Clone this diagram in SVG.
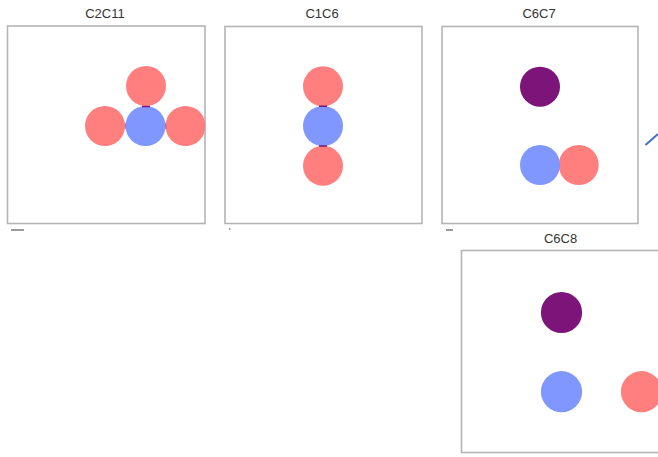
<svg xmlns="http://www.w3.org/2000/svg" width="658" height="457" viewBox="0 0 658 457">
  <style>
    .frame { fill: #ffffff; stroke: #b4b4b4; stroke-width: 1.6; }
    .title { font-family: "Liberation Sans", Arial, sans-serif; font-size: 13px; fill: #333333; text-anchor: middle; }
    .red { fill: #ff7f7f; }
    .blue { fill: #7f97ff; }
    .purple { fill: #7d1479; }
    .joint { stroke: #7d1479; fill: none; }
    .tick { stroke: #7a7a7a; stroke-width: 1.5; fill: none; }
    .link { stroke: #3a6cc6; stroke-width: 1.8; fill: none; }
  </style>

  <rect width="658" height="457" fill="#ffffff"/>

  <!-- panel: C2C11 -->
  <g id="C2C11">
    <text class="title" x="105" y="18">C2C11</text>
    <rect class="frame" x="7.5" y="26" width="197.5" height="197.5"/>
    <circle class="red" cx="146" cy="86" r="20"/>
    <circle class="red" cx="105" cy="126" r="20"/>
    <circle class="red" cx="185.5" cy="126" r="20"/>
    <circle class="blue" cx="145.5" cy="126" r="20"/>
    <path class="joint" d="M142 106.5 H150" stroke-width="1.5"/>
    <path class="joint" d="M125.3 123 V129 M165.7 123 V129" stroke-width="0.8" opacity="0.7"/>
    <path class="tick" d="M11 230 H24"/>
  </g>

  <!-- panel: C1C6 -->
  <g id="C1C6">
    <text class="title" x="322" y="18">C1C6</text>
    <rect class="frame" x="225" y="26.5" width="197" height="197"/>
    <circle class="red" cx="323" cy="86.3" r="20"/>
    <circle class="blue" cx="323" cy="126" r="20"/>
    <circle class="red" cx="323" cy="165.8" r="20"/>
    <path class="joint" d="M319 106.2 H327 M319 145.9 H327" stroke-width="1.5"/>
    <path class="tick" d="M229 229 H230.5"/>
  </g>

  <!-- panel: C6C7 -->
  <g id="C6C7">
    <text class="title" x="539" y="18">C6C7</text>
    <rect class="frame" x="442" y="26.5" width="196" height="197"/>
    <circle class="purple" cx="540" cy="86.7" r="20"/>
    <circle class="red" cx="578.7" cy="165" r="20"/>
    <circle class="blue" cx="540" cy="165" r="20"/>
    <path class="tick" d="M446 230 H453"/>
  </g>

  <!-- panel: C6C8 -->
  <g id="C6C8">
    <text class="title" x="560.5" y="243">C6C8</text>
    <rect class="frame" x="461.5" y="250.5" width="210" height="202"/>
    <circle class="purple" cx="561.5" cy="312.5" r="20.6"/>
    <circle class="blue" cx="561.5" cy="391.7" r="20.6"/>
    <circle class="red" cx="641.5" cy="391.7" r="20.6"/>
  </g>

  <!-- connectors -->
  <g id="connectors">
    <path class="link" d="M645.5 145 L658 134"/>
  </g>
</svg>
